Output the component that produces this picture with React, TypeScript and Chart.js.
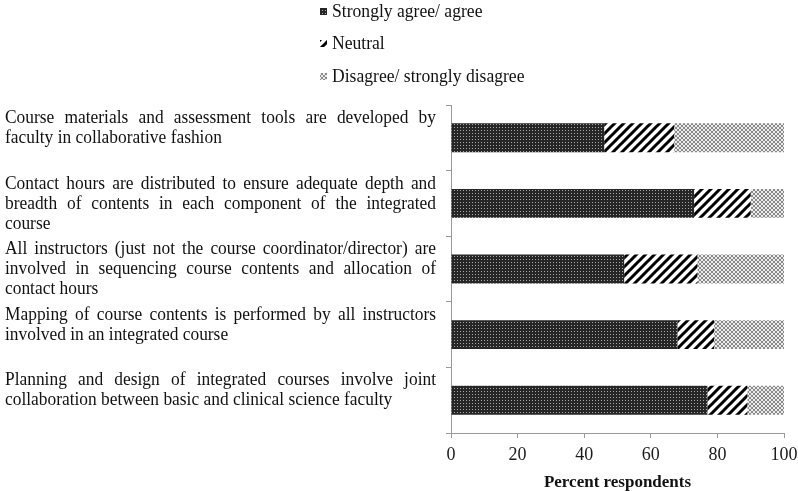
import React, { useEffect, useRef } from "react";
import { Chart, registerables } from "chart.js";

Chart.register(...registerables);

const categories: string[][] = [
  ["Course materials and assessment tools are developed by", "faculty in collaborative fashion"],
  [
    "Contact hours are distributed to ensure adequate depth and",
    "breadth of contents in each component of the integrated",
    "course",
  ],
  [
    "All instructors (just not the course coordinator/director) are",
    "involved in sequencing course contents and allocation of",
    "contact hours",
  ],
  ["Mapping of course contents is performed by all instructors", "involved in an integrated course"],
  ["Planning and design of integrated courses involve joint", "collaboration between basic and clinical science faculty"],
];

const seriesNames = ["Strongly agree/ agree", "Neutral", "Disagree/ strongly disagree"];
const agreeValues = [46, 73, 52, 68, 77];
const neutralValues = [21, 17, 22, 11, 12];
const disagreeValues = [33, 10, 26, 21, 11];
const xTickValues = [0, 20, 40, 60, 80, 100];
const xTitle = "Percent respondents";

const SERIF = "'Liberation Serif', 'Times New Roman', serif";

function makePattern(kind: number): CanvasPattern | string {
  const c = document.createElement("canvas");
  const ctx = c.getContext("2d");
  if (!ctx) return "#444";
  if (kind === 0) {
    c.width = 3;
    c.height = 3;
    ctx.fillStyle = "#262626";
    ctx.fillRect(0, 0, 3, 3);
    ctx.fillStyle = "#a8a8a8";
    ctx.fillRect(1, 1, 1, 1);
  } else if (kind === 1) {
    const s = 9;
    c.width = s;
    c.height = s;
    ctx.fillStyle = "#ffffff";
    ctx.fillRect(0, 0, s, s);
    ctx.strokeStyle = "#000000";
    ctx.lineWidth = 3;
    ctx.beginPath();
    ctx.moveTo(-1, s + 1);
    ctx.lineTo(s + 1, -1);
    ctx.moveTo(-2, 2);
    ctx.lineTo(2, -2);
    ctx.moveTo(s - 2, s + 2);
    ctx.lineTo(s + 2, s - 2);
    ctx.stroke();
  } else {
    const s = 4;
    c.width = s;
    c.height = s;
    ctx.fillStyle = "#ececec";
    ctx.fillRect(0, 0, s, s);
    ctx.fillStyle = "#8a8a8a";
    for (let i = 0; i < s; i++) {
      ctx.fillRect(i, i, 1, 1);
      ctx.fillRect(s - 1 - i, i, 1, 1);
    }
  }
  const p = ctx.createPattern(c, "repeat");
  return p || "#444";
}

const STRETCH = 1.1;

function drawWord(ctx: CanvasRenderingContext2D, w: string, x: number, y: number) {
  ctx.save();
  ctx.translate(x, y);
  ctx.scale(1, STRETCH);
  ctx.fillText(w, 0, 0);
  ctx.restore();
}

function drawJustified(ctx: CanvasRenderingContext2D, text: string, x: number, y: number, width: number, justify: boolean) {
  const words = text.split(" ");
  if (!justify || words.length < 2) {
    drawWord(ctx, text, x, y);
    return;
  }
  const widths = words.map((w) => ctx.measureText(w).width);
  const total = widths.reduce((a, b) => a + b, 0);
  const gap = (width - total) / (words.length - 1);
  let cx = x;
  words.forEach((w, i) => {
    drawWord(ctx, w, cx, y);
    cx += widths[i] + gap;
  });
}

export default function App() {
  const ref = useRef<HTMLCanvasElement | null>(null);

  useEffect(() => {
    if (!ref.current) return;
    const patterns = [makePattern(0), makePattern(1), makePattern(2)];

    const labelPlugin = {
      id: "justifiedLabels",
      afterDraw(chart: any) {
        const ctx: CanvasRenderingContext2D = chart.ctx;
        const yScale = chart.scales.y;
        const rowH = (chart.chartArea.bottom - chart.chartArea.top) / categories.length;
        ctx.save();
        ctx.fillStyle = "#111111";
        ctx.font = `17.4px ${SERIF}`;
        ctx.textBaseline = "middle";
        ctx.textAlign = "left";
        const lh = 20;
        const left = 5;
        const width = 431;
        categories.forEach((lines, i) => {
          const rowTop = yScale.getPixelForValue(i) - rowH / 2;
          const y0 = rowTop + 13;
          lines.forEach((line, j) => {
            drawJustified(ctx, line, left, y0 + j * lh, width, j < lines.length - 1);
          });
        });
        ctx.restore();
      },
    };

    const legendPlugin = {
      id: "stackedLegend",
      afterDraw(chart: any) {
        const ctx: CanvasRenderingContext2D = chart.ctx;
        ctx.save();
        ctx.font = `17.6px ${SERIF}`;
        ctx.textBaseline = "middle";
        ctx.textAlign = "left";
        const bx = 320;
        const ys = [12, 44, 77];
        seriesNames.forEach((name, i) => {
          const y = ys[i];
          ctx.fillStyle = patterns[i] as any;
          ctx.fillRect(bx, y - 4, 7, 7);
          ctx.fillStyle = "#111111";
          drawWord(ctx, name, bx + 12, y);
        });
        ctx.restore();
      },
    };

    const chart = new Chart(ref.current, {
      type: "bar",
      data: {
        labels: categories.map((l) => l.join(" ")),
        datasets: [
          { label: seriesNames[0], data: agreeValues, backgroundColor: patterns[0] as any, borderWidth: 0 },
          { label: seriesNames[1], data: neutralValues, backgroundColor: patterns[1] as any, borderWidth: 0 },
          { label: seriesNames[2], data: disagreeValues, backgroundColor: patterns[2] as any, borderWidth: 0 },
        ],
      },
      options: {
        indexAxis: "y",
        animation: false,
        responsive: false,
        maintainAspectRatio: false,
        layout: { padding: { left: 446, top: 105, right: 0, bottom: 0 } },
        datasets: { bar: { categoryPercentage: 1, barPercentage: 0.44 } },
        plugins: {
          legend: { display: false },
          tooltip: { enabled: false },
        },
        scales: {
          x: {
            stacked: true,
            min: 0,
            max: 100,
            afterBuildTicks: (axis: any) => {
              axis.ticks = xTickValues.map((v) => ({ value: v }));
            },
            afterFit: (axis: any) => {
              axis.paddingRight = 14;
            },
            grid: { drawOnChartArea: false, drawTicks: true, tickLength: 5, color: "#999999" },
            border: { color: "#999999" },
            ticks: { font: { family: SERIF, size: 18 }, color: "#1a1a1a", padding: 6 },
            title: {
              display: true,
              text: xTitle,
              font: { family: SERIF, size: 17, weight: "bold" },
              color: "#111111",
              padding: { top: 1, bottom: -2 },
            },
          },
          y: {
            stacked: true,
            grid: { drawOnChartArea: false, drawTicks: true, tickLength: 5, color: "#999999", offset: true },
            border: { color: "#999999" },
            ticks: { display: false },
          },
        },
      },
      plugins: [labelPlugin, legendPlugin],
    } as any);

    return () => chart.destroy();
  }, []);

  return (
    <div style={{ position: "fixed", left: 0, top: 0, width: 798, height: 491, background: "#fff" }}>
      <canvas ref={ref} width={798} height={491} style={{ width: 798, height: 491 }} />
    </div>
  );
}
